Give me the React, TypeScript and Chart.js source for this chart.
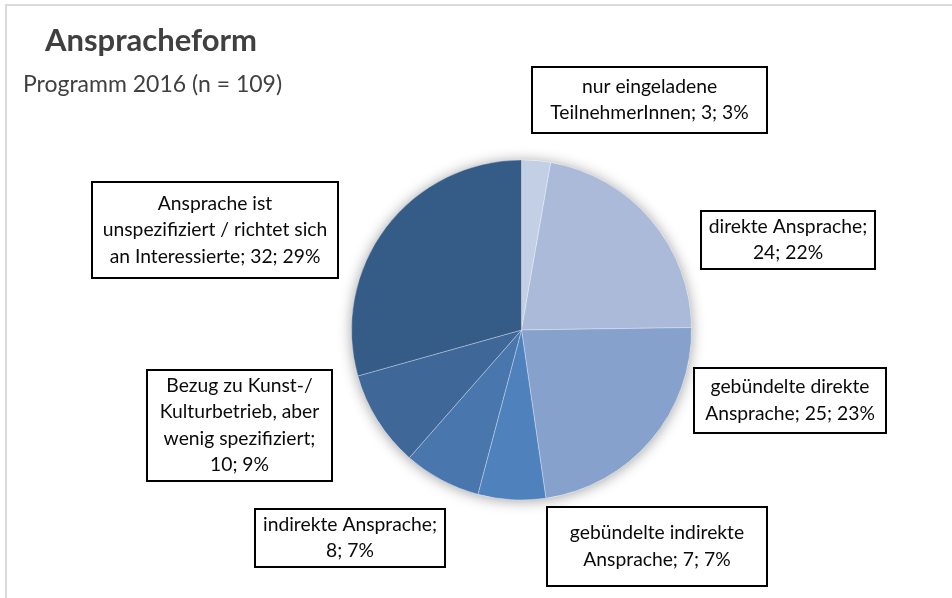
import React, { useEffect, useRef } from "react";
import { Chart, registerables } from "chart.js";

Chart.register(...registerables);

const title = "Anspracheform";
const subtitle = "Programm 2016 (n = 109)";

const categories = [
  "nur eingeladene TeilnehmerInnen",
  "direkte Ansprache",
  "gebündelte direkte Ansprache",
  "gebündelte indirekte Ansprache",
  "indirekte Ansprache",
  "Bezug zu Kunst-/Kulturbetrieb, aber wenig spezifiziert",
  "Ansprache ist unspezifiziert / richtet sich an Interessierte",
];
const values = [3, 24, 25, 7, 8, 10, 32];
const percents = [3, 22, 23, 7, 7, 9, 29];

const labelLines = [
  ["nur eingeladene", "TeilnehmerInnen; 3; 3%"],
  ["direkte Ansprache;", "24; 22%"],
  ["gebündelte direkte", "Ansprache; 25; 23%"],
  ["gebündelte indirekte", "Ansprache; 7; 7%"],
  ["indirekte Ansprache;", "8; 7%"],
  ["Bezug zu Kunst-/", "Kulturbetrieb, aber", "wenig spezifiziert;", "10; 9%"],
  ["Ansprache ist", "unspezifiziert / richtet sich", "an Interessierte; 32; 29%"],
];

const colors = ["#c3cfe4", "#aabad8", "#86a2cc", "#4f81bd", "#4876ad", "#3f6899", "#355b87"];

// label box layout (x, y, w, h)
const boxes = [
  [532, 67, 235, 66],
  [701, 211, 174, 58],
  [694, 368, 192, 65],
  [547, 507, 220, 79],
  [255, 509, 190, 58],
  [147, 370, 185, 111],
  [92, 182, 246, 96],
];

const FONT = "Lato, 'Open Sans', sans-serif";

const overlay = {
  id: "overlay",
  beforeDatasetsDraw(chart: any) {
    const ctx = chart.ctx;
    const arc = chart.getDatasetMeta(0).data[0];
    if (!arc) return;
    const { x, y, outerRadius } = arc.getProps(["x", "y", "outerRadius"], true);
    ctx.save();
    ctx.shadowColor = "rgba(0,0,0,0.38)";
    ctx.shadowBlur = 14;
    ctx.shadowOffsetX = 0;
    ctx.shadowOffsetY = 1;
    ctx.fillStyle = "#ffffff";
    ctx.beginPath();
    ctx.arc(x, y, outerRadius, 0, Math.PI * 2);
    ctx.fill();
    ctx.restore();
  },
  afterDraw(chart: any) {
    const ctx = chart.ctx;
    ctx.save();
    // frame
    ctx.strokeStyle = "#cfcfcf";
    ctx.lineWidth = 1.5;
    ctx.strokeRect(6, 5, 1000, 700);

    // title
    ctx.fillStyle = "#404040";
    ctx.textBaseline = "alphabetic";
    ctx.textAlign = "left";
    ctx.font = `bold 31px ${FONT}`;
    ctx.fillText(title, 45, 51);
    ctx.font = `23px ${FONT}`;
    ctx.fillText(subtitle, 23, 92);

    // label boxes
    ctx.font = `19.3px ${FONT}`;
    ctx.textAlign = "center";
    ctx.textBaseline = "middle";
    boxes.forEach((b, i) => {
      const [bx, by, bw, bh] = b;
      ctx.fillStyle = "#ffffff";
      ctx.fillRect(bx, by, bw, bh);
      ctx.strokeStyle = "#000000";
      ctx.lineWidth = 2;
      ctx.strokeRect(bx, by, bw, bh);
      const lines = labelLines[i];
      const lh = 26.5;
      const cy = by + bh / 2;
      ctx.fillStyle = "#0a0a0a";
      lines.forEach((ln, j) => {
        ctx.fillText(ln, bx + bw / 2, cy + (j - (lines.length - 1) / 2) * lh);
      });
    });
    ctx.restore();
  },
};

export default function App() {
  const ref = useRef<HTMLCanvasElement>(null);
  useEffect(() => {
    if (!ref.current) return;
    const chart = new Chart(ref.current, {
      type: "pie",
      data: {
        labels: categories,
        datasets: [
          {
            data: values,
            backgroundColor: colors,
            borderColor: "rgba(255,255,255,0.3)",
            borderWidth: 1,
          },
        ],
      },
      options: {
        responsive: false,
        animation: false,
        events: [],
        layout: { padding: { left: 351, right: 260, top: 159.5, bottom: 97.5 } },
        plugins: {
          legend: { display: false },
          tooltip: { enabled: false },
          title: { display: false },
        },
      },
      plugins: [overlay],
    });
    return () => chart.destroy();
  }, []);
  return (
    <div style={{ position: "fixed", left: 0, top: 0, width: 952, height: 598, background: "#fff" }}>
      <canvas ref={ref} width={952} height={598} style={{ display: "block" }} />
    </div>
  );
}
